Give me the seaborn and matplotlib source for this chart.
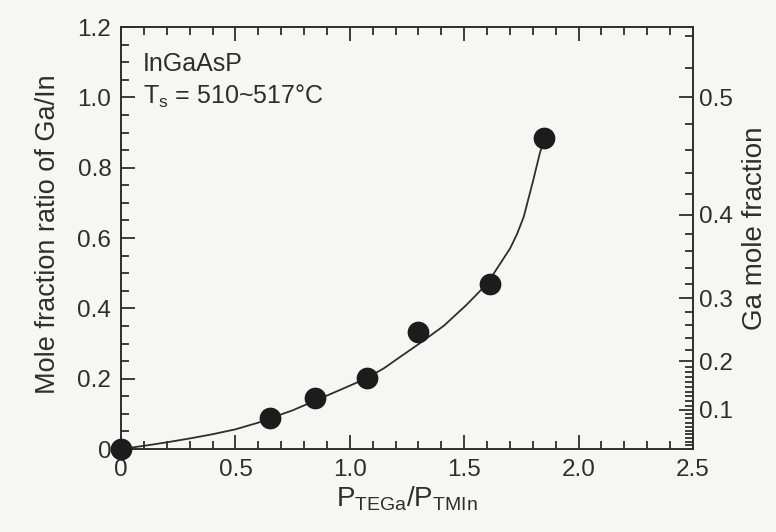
#!/usr/bin/env python3
"""
    Ga/In mole fraction ratio vs TEGa/TMIn supply ratio (InGaAsP)
"""
import pandas as pd
import matplotlib
matplotlib.use("Agg")
import matplotlib.pyplot as plt
from matplotlib.ticker import FixedLocator
import seaborn as sns

# measured points
p_ratio = [0.0, 0.65, 0.846, 1.073, 1.30, 1.612, 1.851]
ga_in_ratio = [0.0, 0.087, 0.144, 0.201, 0.332, 0.469, 0.886]

# fitted curve
curve_x = [0.0, 0.1, 0.2, 0.3, 0.4, 0.5, 0.6, 0.65, 0.75, 0.85, 0.95, 1.07,
           1.15, 1.22, 1.30, 1.41, 1.51, 1.57, 1.61, 1.65, 1.70, 1.73, 1.76,
           1.78, 1.80, 1.83, 1.851]
curve_y = [0.0, 0.009, 0.019, 0.030, 0.042, 0.056, 0.075, 0.087, 0.11, 0.138,
           0.166, 0.20, 0.23, 0.262, 0.298, 0.35, 0.41, 0.45, 0.48, 0.52,
           0.57, 0.61, 0.66, 0.71, 0.76, 0.84, 0.886]

x_ticks = [0, 0.5, 1.0, 1.5, 2.0, 2.5]
x_tick_labels = ['0', '0.5', '1.0', '1.5', '2.0', '2.5']
x_minor = [0.1, 0.2, 0.3, 0.4, 0.6, 0.7, 0.8, 0.9, 1.1, 1.2, 1.3, 1.4,
           1.6, 1.7, 1.8, 1.9, 2.1, 2.2, 2.3, 2.4]
y_ticks = [0, 0.2, 0.4, 0.6, 0.8, 1.0, 1.2]
y_tick_labels = ['0', '0.2', '0.4', '0.6', '0.8', '1.0', '1.2']
y_minor = [0.05, 0.1, 0.15, 0.25, 0.3, 0.35, 0.45, 0.5, 0.55, 0.65, 0.7,
           0.75, 0.85, 0.9, 0.95, 1.05, 1.1, 1.15]

# right axis: Ga mole fraction labels
frac_major = [0.1, 0.2, 0.3, 0.4, 0.5]
frac_minor = [0.01, 0.02, 0.03, 0.04, 0.05, 0.06, 0.07, 0.08, 0.09,
              0.11, 0.12, 0.13, 0.14, 0.15, 0.16, 0.17, 0.18, 0.19,
              0.22, 0.24, 0.26, 0.28, 0.32, 0.34, 0.36, 0.38,
              0.42, 0.44, 0.46, 0.48, 0.52, 0.54]

sns.set_style("ticks")
plt.rcParams['font.family'] = ['Liberation Sans', 'DejaVu Sans']
plt.rcParams['mathtext.fontset'] = 'custom'
plt.rcParams['mathtext.rm'] = 'Liberation Sans'
plt.rcParams['mathtext.it'] = 'Liberation Sans'

ink = '#2e2e2e'
bg = '#f6f6f4'

fig = plt.figure(figsize=(7.76, 5.32), dpi=100, facecolor=bg)
ax = fig.add_axes([0.156, 0.156, 0.737, 0.793], facecolor=bg)

pts = pd.DataFrame({'x': p_ratio, 'y': ga_in_ratio})
fit = pd.DataFrame({'x': curve_x, 'y': curve_y})

sns.lineplot(data=fit, x='x', y='y', sort=False, estimator=None,
             color=ink, lw=1.3, ax=ax, zorder=2)
sns.scatterplot(data=pts, x='x', y='y', s=210, color='#1c1c1c',
                edgecolor='#1c1c1c', ax=ax, zorder=3, clip_on=False)

ax.set_xlim(0, 2.5)
ax.set_ylim(0, 1.2)
ax.set_xticks(x_ticks)
ax.set_xticklabels(x_tick_labels)
ax.set_xticks(x_minor, minor=True)
ax.set_yticks(y_ticks)
ax.set_yticklabels(y_tick_labels)
ax.set_yticks(y_minor, minor=True)
ax.tick_params(which='both', direction='in', top=True, right=False,
               color=ink, width=1.3, labelsize=17.5, labelcolor=ink, pad=7)
ax.tick_params(which='major', length=10)
ax.tick_params(which='minor', length=6)
for sp in ax.spines.values():
    sp.set_color(ink)
    sp.set_linewidth(1.4)

ax.set_xlabel(r'P$_{\mathrm{TEGa}}$/P$_{\mathrm{TMIn}}$', fontsize=20,
              color=ink)
ax.xaxis.set_label_coords(0.5, -0.085)
ax.set_ylabel('Mole fraction ratio of Ga/In', fontsize=19.5, color=ink)
ax.yaxis.set_label_coords(-0.105, 0.51)

ax.text(0.096, 1.095, 'InGaAsP', fontsize=18, color=ink, va='center')
ax.text(0.096, 1.004, r'T$_{\mathrm{s}}$ = 510~517°C', fontsize=18,
        color=ink, va='center')

# right axis in Ga mole fraction, ratio r = f / (1 - f)
ax2 = ax.twinx()
ax2.set_ylim(0, 1.2)
ax2.yaxis.set_major_locator(FixedLocator([f / (1 - f) for f in frac_major]))
ax2.yaxis.set_minor_locator(FixedLocator([f / (1 - f) for f in frac_minor]))
ax2.set_yticklabels([f'{f:.1f}' for f in frac_major])
ax2.tick_params(which='both', direction='in', color=ink, width=1.3,
                labelsize=17.5, labelcolor=ink, pad=4)
ax2.tick_params(which='major', length=10)
ax2.tick_params(which='minor', length=6)
for sp in ax2.spines.values():
    sp.set_visible(False)
ax2.set_ylabel('Ga mole fraction', fontsize=20, color=ink)
ax2.yaxis.set_label_coords(1.085, 0.524)

fig.savefig('out.png', dpi=100, facecolor=bg)
